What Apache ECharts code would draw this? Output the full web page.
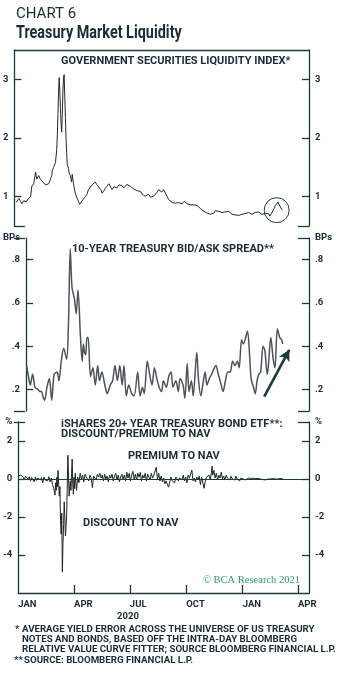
<!DOCTYPE html>
<html>
<head>
<meta charset="utf-8">
<title>Treasury Market Liquidity</title>
<script src="https://cdn.jsdelivr.net/npm/echarts@6/dist/echarts.min.js"></script>
<style>
  html, body { margin: 0; padding: 0; background: #fff; }
  #chart { width: 352px; height: 680px; }
</style>
</head>
<body>
<div id="chart"></div>
<script>
// x values are days counted from 1 Jan 2020
var quarterDays = [0, 91, 182, 274, 366, 456];
var quarterLabels = ['JAN', 'APR', 'JUL', 'OCT', 'JAN', 'APR'];

// government securities liquidity index
var liqSeries = [
  [3,0.90],[7,0.97],[10,0.92],[12,0.88],[15,0.93],[19,0.91],[22,0.96],[26,1.00],[28,1.18],[31,1.22],
  [34,1.42],[36,1.30],[39,1.36],[41,1.31],[44,1.27],[47,1.24],[50,1.20],[52,1.17],[55,1.22],[57,1.27],
  [60,1.36],[61,1.45],[63,1.50],[66,1.58],[68,1.80],[69,2.05],[70,2.40],[71,2.80],[72,3.03],[73,2.80],
  [74,2.50],[75,2.25],[76,2.10],[77,2.40],[78,2.80],[79,3.02],[80,3.08],[81,2.70],[82,2.35],[83,2.00],
  [84,1.75],[85,1.55],[87,1.48],[88,1.40],[90,1.36],[92,1.25],[93,1.38],[95,1.22],[98,1.05],[101,0.97],
  [103,0.92],[105,0.87],[107,0.90],[109,0.93],[111,0.92],[114,1.00],[117,1.05],[119,1.12],[122,1.15],[125,1.20],
  [128,1.22],[130,1.25],[133,1.20],[136,1.17],[139,1.12],[141,1.06],[144,1.10],[146,1.14],[149,1.18],[152,1.22],
  [155,1.16],[157,1.12],[160,1.17],[162,1.20],[165,1.15],[168,1.20],[171,1.17],[173,1.19],[176,1.15],[178,1.14],
  [181,1.21],[184,1.22],[187,1.17],[189,1.16],[192,1.13],[195,1.12],[198,1.10],[200,1.08],[203,1.09],[205,1.05],
  [208,1.03],[210,1.01],[213,1.04],[216,1.04],[219,0.99],[221,0.97],[224,1.01],[227,1.04],[230,1.08],[232,1.12],
  [235,1.09],[237,1.08],[240,1.12],[243,1.10],[246,1.00],[248,0.95],[251,0.92],[254,0.90],[257,0.88],[259,0.89],
  [262,0.91],[264,0.90],[267,0.93],[270,0.88],[273,0.92],[275,0.93],[278,0.88],[280,0.89],[283,0.86],[286,0.85],
  [289,0.86],[291,0.84],[294,0.85],[296,0.83],[299,0.80],[302,0.78],[305,0.75],[307,0.73],[310,0.72],[312,0.71],
  [315,0.70],[318,0.68],[321,0.72],[323,0.76],[326,0.78],[329,0.75],[332,0.77],[334,0.73],[337,0.76],[339,0.74],
  [342,0.72],[345,0.75],[348,0.72],[350,0.70],[353,0.71],[355,0.69],[358,0.70],[361,0.68],[364,0.71],[366,0.70],
  [369,0.73],[371,0.71],[374,0.70],[377,0.73],[380,0.71],[382,0.70],[385,0.72],[387,0.73],[390,0.71],[393,0.74],
  [396,0.71],[398,0.70],[401,0.73],[403,0.71],[406,0.69],[409,0.71],[411,0.67],[413,0.66],[416,0.76],[418,0.80],
  [420,0.85],[422,0.88],[424,0.91],[426,0.86],[428,0.83],[431,0.77]
];

// 10-year treasury bid/ask spread, bps
var spreadSeries = [
  [1,0.31],[4,0.26],[7,0.22],[11,0.27],[15,0.21],[20,0.20],[23,0.19],[26,0.19],[28,0.17],[31,0.15],
  [35,0.21],[39,0.25],[43,0.15],[47,0.27],[52,0.28],[55,0.24],[59,0.33],[63,0.39],[68,0.34],[71,0.50],
  [74,0.85],[77,0.67],[81,0.62],[84,0.55],[87,0.66],[91,0.45],[94,0.33],[96,0.41],[98,0.37],[100,0.36],
  [102,0.44],[104,0.44],[108,0.26],[112,0.30],[116,0.22],[120,0.31],[123,0.24],[127,0.28],[132,0.22],[136,0.18],
  [141,0.22],[145,0.24],[149,0.31],[153,0.24],[157,0.31],[161,0.22],[164,0.31],[168,0.17],[172,0.22],[177,0.18],
  [181,0.17],[187,0.28],[191,0.17],[195,0.21],[198,0.18],[203,0.33],[207,0.27],[211,0.22],[215,0.30],[219,0.25],
  [223,0.21],[227,0.19],[230,0.24],[235,0.21],[239,0.26],[243,0.28],[246,0.21],[251,0.24],[255,0.19],[258,0.25],
  [263,0.22],[266,0.16],[270,0.32],[273,0.19],[277,0.24],[280,0.17],[286,0.37],[289,0.24],[293,0.17],[296,0.22],
  [300,0.28],[303,0.22],[307,0.25],[311,0.27],[314,0.29],[318,0.31],[322,0.27],[326,0.23],[330,0.19],[334,0.24],
  [338,0.28],[342,0.28],[346,0.33],[350,0.31],[354,0.33],[357,0.30],[361,0.43],[364,0.41],[367,0.43],[371,0.47],
  [374,0.38],[377,0.25],[381,0.21],[384,0.18],[387,0.24],[390,0.27],[393,0.28],[397,0.40],[400,0.38],[404,0.27],
  [406,0.31],[410,0.44],[414,0.34],[417,0.30],[421,0.48],[425,0.44],[428,0.43],[430,0.41]
];

// iShares 20+ year treasury ETF, discount/premium to NAV, %
var etfSeries = [
  [0,0.15],[2,0.05],[4,0.20],[6,0.10],[8,0.12],[10,-0.05],[12,0.15],[14,0.10],[16,0.00],[18,0.12],
  [20,-0.10],[22,0.08],[24,0.02],[26,-0.15],[28,0.10],[30,-0.08],[32,0.05],[34,0.12],[36,-0.05],[38,0.08],
  [40,-0.20],[42,0.10],[44,-0.05],[46,0.05],[48,-0.10],[50,0.12],[52,-0.15],[54,0.05],[56,-0.30],[58,-0.50],
  [60,-0.85],[61,-0.20],[62,-0.60],[63,0.10],[64,-0.40],[65,0.45],[66,-0.30],[67,-0.90],[68,-0.40],[69,-2.20],
  [70,-2.90],[71,-1.80],[72,-4.90],[73,-3.40],[74,-2.40],[75,-1.20],[76,-2.00],[77,-3.00],[78,-2.50],[79,-1.90],
  [80,-0.30],[81,1.25],[82,0.20],[83,-0.90],[84,-0.40],[85,-0.10],[86,-0.60],[87,0.30],[88,1.05],[89,-0.30],
  [90,-0.80],[91,0.10],[92,-0.50],[93,0.30],[95,-0.60],[97,0.10],[99,-0.20],[101,0.30],[103,0.00],[105,0.20],
  [107,-0.15],[109,0.25],[111,0.10],[113,0.20],[115,-0.10],[117,0.20],[119,0.05],[121,-0.45],[123,0.15],[125,0.20],
  [127,-0.05],[129,0.25],[131,0.10],[133,0.30],[135,0.05],[137,0.20],[139,-0.10],[141,0.25],[143,0.00],[145,0.15],
  [147,-0.15],[149,0.20],[151,0.05],[153,0.25],[155,-0.10],[157,0.15],[159,0.30],[161,-0.05],[163,0.20],[165,-0.15],
  [167,0.10],[169,0.25],[171,0.00],[173,0.20],[175,-0.10],[177,0.35],[179,0.05],[181,0.30],[183,-0.10],[185,0.20],
  [187,0.40],[189,0.00],[191,0.25],[193,-0.05],[195,0.30],[197,0.10],[199,0.35],[201,-0.10],[203,0.20],[205,0.05],
  [207,0.30],[209,-0.10],[211,0.25],[213,0.10],[215,-0.05],[217,0.30],[219,0.05],[221,0.20],[223,0.10],[225,0.62],
  [227,0.00],[229,0.30],[231,-0.10],[233,0.15],[235,-0.15],[237,0.05],[239,-0.25],[241,-0.10],[243,-0.20],[245,-0.43],
  [247,-0.15],[249,0.10],[251,-0.10],[253,0.00],[255,-0.20],[257,0.10],[259,0.00],[261,-0.10],[263,0.05],[265,0.15],
  [267,-0.05],[269,0.20],[271,-0.10],[273,0.10],[275,-0.20],[277,0.20],[279,0.05],[281,0.00],[283,0.47],[285,-0.10],
  [287,0.05],[289,-0.15],[291,0.10],[293,-0.05],[295,0.15],[297,-0.30],[299,0.10],[301,0.00],[303,-0.49],[305,-0.10],
  [307,0.10],[309,0.05],[311,0.20],[313,-0.05],[315,0.35],[316,0.68],[317,0.20],[319,0.45],[321,0.05],[323,0.30],
  [325,-0.05],[327,0.20],[329,0.05],[331,0.35],[333,0.00],[335,0.15],[337,-0.05],[339,0.20],[341,0.05],[343,0.10],
  [345,-0.05],[347,0.15],[349,0.00],[351,0.10],[353,-0.05],[355,0.15],[357,0.00],[359,0.10],[361,-0.10],[363,0.05],
  [365,0.10],[367,0.00],[369,0.05],[371,-0.05],[373,0.02],[375,0.05],[377,0.00],[379,0.03],[381,-0.02],[383,0.04],
  [385,0.00],[387,0.02],[389,-0.02],[391,0.03],[393,0.05],[395,0.00],[397,0.02],[399,-0.03],[401,0.00],[403,-0.05],
  [405,0.02],[407,0.00],[409,0.03],[411,0.00],[413,-0.02],[415,0.02],[417,0.05],[419,0.00],[421,0.03],[423,0.00],
  [425,0.04],[427,0.02],[429,0.05],[431,0.03]
];

var liqTicks = [1, 2, 3];
var spreadTicks = [0.2, 0.4, 0.6, 0.8];
var etfTicks = [-4, -2, 0, 2];

var frame = '#1b3a3f';
var ink = '#1c2b39';
var lab = { color: ink, fontFamily: 'Roboto', fontWeight: 'bold', fontSize: 9.5 };

var L = 14, R = 309;
var panels = [
  { top: 50, height: 176 },
  { top: 238, height: 173 },
  { top: 422, height: 171 }
];

function yAx(grid, pos, min, max, ticks, labels, fmt) {
  return {
    type: 'value', gridIndex: grid, position: pos, min: min, max: max,
    splitLine: { show: false },
    axisLine: { show: true, lineStyle: { color: frame, width: 1.3 } },
    axisTick: { show: true, inside: true, length: 7, customValues: ticks, lineStyle: { color: frame, width: 1.3 } },
    axisLabel: Object.assign({ customValues: labels, margin: 6, formatter: fmt, showMinLabel: true, showMaxLabel: true }, lab)
  };
}

var fmtLiq = function (v) { return String(v); };
var fmtSpread = function (v) { return v > 0.85 ? 'BPs' : String(v).replace('0.', '.'); };
var fmtEtf = function (v) { return v > 2.5 ? '%' : String(v); };

var yAxes = [];
['left', 'right'].forEach(function (p) { yAxes.push(yAx(0, p, 0.5, 3.5, liqTicks, liqTicks, fmtLiq)); });
['left', 'right'].forEach(function (p) { yAxes.push(yAx(1, p, 0.1, 0.9, spreadTicks, spreadTicks.concat([0.9]), fmtSpread)); });
['left', 'right'].forEach(function (p) { yAxes.push(yAx(2, p, -6, 3, etfTicks, etfTicks.concat([3]), fmtEtf)); });

// little corner stubs where panels meet
var stubs = [];
[panels[0].top + panels[0].height, panels[1].top, panels[1].top + panels[1].height, panels[2].top].forEach(function (v) {
  var y = Math.round(v) + 0.5;
  stubs.push({ type: 'line', shape: { x1: L, y1: y, x2: L + 11, y2: y }, style: { stroke: frame, lineWidth: 1.3 } });
  stubs.push({ type: 'line', shape: { x1: R - 11, y1: y, x2: R, y2: y }, style: { stroke: frame, lineWidth: 1.3 } });
});

function txt(x, y, s, style, extra) {
  return Object.assign({ type: 'text', x: x, y: y,
    style: Object.assign({ text: s, fill: ink, font: 'bold 11px Roboto', textVerticalAlign: 'middle' }, style || {}) }, extra || {});
}

var foot = 'bold 9.7px Roboto';
var texts = [
  txt(16, 14, 'CHART 6', { font: '15px Roboto' }),
  txt(16, 33, 'Treasury Market Liquidity', { font: 'bold 18px Roboto' }, { scaleX: 0.8 }),
  txt(61, 61, 'GOVERNMENT SECURITIES LIQUIDITY INDEX*'),
  txt(72, 249, '10-YEAR TREASURY BID/ASK SPREAD**'),
  txt(61, 424, 'iSHARES 20+ YEAR TREASURY BOND ETF**:'),
  txt(61, 434, 'DISCOUNT/PREMIUM TO NAV'),
  txt(128, 456, 'PREMIUM TO NAV'),
  txt(83, 523, 'DISCOUNT TO NAV'),
  txt(203, 580, '\u00a9 BCA Research 2021', { fill: '#2b9c77', font: '10.5px "Liberation Serif", serif' }),
  txt(128, 617, '2020', { font: 'bold 9.5px Roboto', textAlign: 'center' }),
  txt(15, 630, '*', { font: foot }),
  txt(22, 630, 'AVERAGE YIELD ERROR ACROSS THE UNIVERSE OF US TREASURY', { font: foot }),
  txt(22, 640, 'NOTES AND BONDS, BASED OFF THE INTRA-DAY BLOOMBERG', { font: foot }),
  txt(22, 650, 'RELATIVE VALUE CURVE FITTER; SOURCE BLOOMBERG FINANCIAL L.P.', { font: foot }),
  txt(14, 661, '**', { font: foot }),
  txt(24, 661, 'SOURCE: BLOOMBERG FINANCIAL L.P.', { font: foot })
];

var chart = echarts.init(document.getElementById('chart'));

var option = {
  animation: false,
  backgroundColor: '#fff',
  grid: panels.map(function (p) { return { left: L, right: 352 - R, top: p.top, height: p.height }; }),
  xAxis: [
    { type: 'value', gridIndex: 0, min: 0, max: 474, position: 'top',
      axisLine: { show: true, onZero: false, lineStyle: { color: frame, width: 1.3 } },
      axisTick: { show: false }, axisLabel: { show: false }, splitLine: { show: false } },
    { type: 'value', gridIndex: 1, min: 0, max: 474, show: false },
    { type: 'value', gridIndex: 2, min: 0, max: 474, position: 'bottom',
      axisLine: { show: true, onZero: false, lineStyle: { color: frame, width: 1.3 } },
      axisTick: { show: true, inside: true, length: 8, customValues: quarterDays.slice(1), lineStyle: { color: frame, width: 1.3 } },
      axisLabel: Object.assign({ customValues: quarterDays, align: 'left', margin: 7,
        formatter: function (v) { return quarterLabels[quarterDays.indexOf(v)] || ''; } }, lab),
      splitLine: { show: false } }
  ],
  yAxis: yAxes,
  series: [
    {
      type: 'line', xAxisIndex: 0, yAxisIndex: 0, data: liqSeries, showSymbol: false,
      lineStyle: { color: '#25292c', width: 1 },
      markPoint: {
        silent: true, symbol: 'circle', symbolSize: 25,
        itemStyle: { color: 'rgba(0,0,0,0)', borderColor: frame, borderWidth: 1 },
        label: { show: false },
        data: [{ coord: [422, 0.77] }]
      }
    },
    {
      type: 'line', xAxisIndex: 1, yAxisIndex: 2, data: spreadSeries, showSymbol: false, smooth: 0.3,
      lineStyle: { color: '#4d5357', width: 1.5 },
      markLine: {
        silent: true, symbol: ['none', 'arrow'], symbolSize: [9, 11],
        lineStyle: { color: frame, width: 2.6, type: 'solid' },
        label: { show: false },
        data: [[{ coord: [399, 0.166] }, { coord: [441, 0.383] }]]
      }
    },
    {
      type: 'line', xAxisIndex: 2, yAxisIndex: 4, data: etfSeries, showSymbol: false,
      lineStyle: { color: '#202427', width: 1 },
      markLine: {
        silent: true, symbol: 'none',
        lineStyle: { color: frame, width: 1.2, type: 'solid' },
        label: { show: false },
        data: [{ yAxis: 0 }]
      }
    }
  ],
  graphic: stubs.concat(texts)
};

chart.setOption(option);
</script>
</body>
</html>
